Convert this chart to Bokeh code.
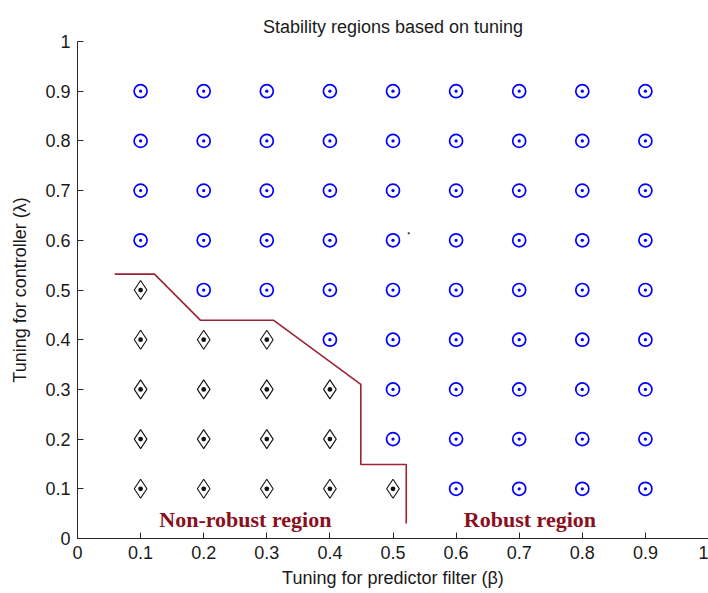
from bokeh.plotting import figure
from bokeh.models import Range1d, FixedTicker, Label
from bokeh.embed import file_html
from bokeh.resources import INLINE

# Tuning grid: predictor filter (beta) columns and controller (lambda) rows
beta_values = [0.1, 0.2, 0.3, 0.4, 0.5, 0.6, 0.7, 0.8, 0.9]
lambda_values = [0.1, 0.2, 0.3, 0.4, 0.5, 0.6, 0.7, 0.8, 0.9]

# Smallest lambda that is stable/robust for each beta column
min_robust_lambda = [0.6, 0.5, 0.5, 0.4, 0.2, 0.1, 0.1, 0.1, 0.1]

# Boundary drawn between the two regions
boundary_beta = [0.059, 0.122, 0.195, 0.311, 0.449, 0.449, 0.521, 0.521]
boundary_lambda = [0.532, 0.532, 0.439, 0.439, 0.310, 0.149, 0.149, 0.030]

# Isolated stray point
stray_beta = [0.525]
stray_lambda = [0.614]

ticks = [0, 0.1, 0.2, 0.3, 0.4, 0.5, 0.6, 0.7, 0.8, 0.9, 1]
tick_labels = {0: "0", 0.1: "0.1", 0.2: "0.2", 0.3: "0.3", 0.4: "0.4", 0.5: "0.5",
               0.6: "0.6", 0.7: "0.7", 0.8: "0.8", 0.9: "0.9", 1: "1"}

robust_x, robust_y, unstable_x, unstable_y = [], [], [], []
for b, lim in zip(beta_values, min_robust_lambda):
    for lam in lambda_values:
        if lam >= lim - 1e-9:
            robust_x.append(b)
            robust_y.append(lam)
        else:
            unstable_x.append(b)
            unstable_y.append(lam)

FONT = "Liberation Sans"
AXIS_COLOR = "#262626"

p = figure(width=708, height=593, output_backend="svg", toolbar_location=None,
           x_range=Range1d(0, 1), y_range=Range1d(0, 1),
           min_border_left=77, min_border_right=0, min_border_top=41, min_border_bottom=55,
           title="Stability regions based on tuning")
p.outline_line_color = None
p.grid.visible = False
p.background_fill_color = "white"
p.border_fill_color = "white"

p.title.text_font = FONT
p.title.text_font_size = "18px"
p.title.text_font_style = "normal"
p.title.text_color = "#1a1a1a"
p.title.align = "center"

for ax in (p.xaxis[0], p.yaxis[0]):
    ax.ticker = FixedTicker(ticks=ticks)
    ax.major_label_overrides = tick_labels
    ax.major_tick_in = 6
    ax.major_tick_out = 0
    ax.minor_tick_line_color = None
    ax.axis_line_color = AXIS_COLOR
    ax.major_tick_line_color = AXIS_COLOR
    ax.major_label_text_font = FONT
    ax.major_label_text_font_size = "18px"
    ax.major_label_text_color = "#1a1a1a"
    ax.axis_label_text_font = FONT
    ax.axis_label_text_font_size = "18px"
    ax.axis_label_text_font_style = "normal"
    ax.axis_label_text_color = "#1a1a1a"

p.xaxis.axis_label = "Tuning for predictor filter (β)"
p.yaxis.axis_label = "Tuning for controller (λ)"
p.xaxis.major_label_standoff = 7
p.xaxis.axis_label_standoff = 6
p.yaxis.major_label_standoff = 7
p.yaxis.axis_label_standoff = 12

# Robust (stable) tunings
p.scatter(robust_x, robust_y, marker="circle_dot", size=13, fill_color=None,
          line_color="#0000ff", line_width=1.7)
# Non-robust tunings
p.scatter(unstable_x, unstable_y, marker="diamond_dot", size=19, fill_color=None,
          line_color="#111111", line_width=1.1)
p.scatter(stray_beta, stray_lambda, marker="square", size=2, fill_color="#444444",
          line_color=None)

p.line(boundary_beta, boundary_lambda, line_color="#9b2335", line_width=1.6)

LABEL_COLOR = "#8a1020"
p.add_layout(Label(x=0.266, y=0.038, text="Non-robust region", text_align="center",
                   text_baseline="alphabetic", text_font="Liberation Serif",
                   text_font_size="22px", text_font_style="bold", text_color=LABEL_COLOR))
p.add_layout(Label(x=0.717, y=0.038, text="Robust region", text_align="center",
                   text_baseline="alphabetic", text_font="Liberation Serif",
                   text_font_size="22px", text_font_style="bold", text_color=LABEL_COLOR))

open("out.html", "w").write(file_html(p, INLINE))
